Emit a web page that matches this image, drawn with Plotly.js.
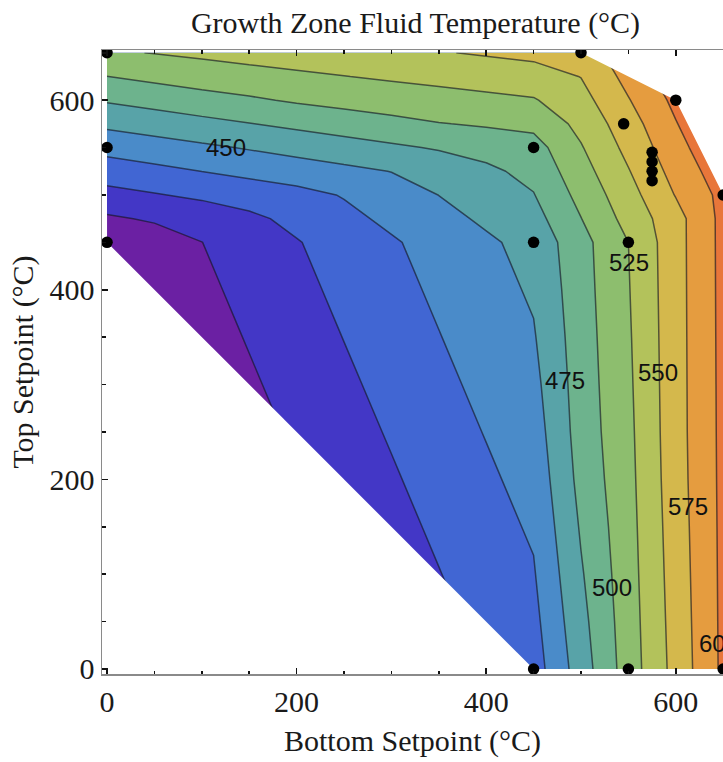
<!DOCTYPE html>
<html>
<head>
<meta charset="utf-8">
<script src="https://cdn.plot.ly/plotly-3.0.1.min.js"></script>
<style>
html,body{margin:0;padding:0;background:#fff;}
#chart{width:723px;height:762px;}
</style>
</head>
<body>
<div id="chart"></div>
<script>
// ---- data ----
const xGrid = [0,50,100,150,200,250,300,350,400,450,500,550,600,650];
const yGrid = [0,50,100,150,200,250,300,350,400,450,475,500,525,550,575,600,625,650];
// fluid temperature (°C) at grid nodes, one row per yGrid value
const zGrid = [
  [306,317.9,329.8,341.7,353.6,365.5,377.3,389.2,401.1,413,462.5,512,558.5,605],
  [311,322.9,334.8,346.7,358.6,370.5,382.3,394.2,406.1,418,467.5,513.4,560,605.2],
  [316,327.9,339.8,351.7,363.6,375.5,387.3,399.2,411.1,423,472.5,514.9,561.4,605.4],
  [321,332.9,344.8,356.7,368.6,380.5,392.3,404.2,416.1,428,477.5,516.3,562.8,605.6],
  [326,337.9,349.8,361.7,373.6,385.5,397.3,409.2,421.1,433,482.5,517.8,564.3,605.8],
  [331,342.9,354.8,366.7,378.6,390.5,402.3,414.2,426.1,438,485.7,519.2,565.1,606],
  [336,347.9,359.8,371.7,383.6,395.5,407.3,419.2,431.1,443,487.2,520.7,565.3,606.2],
  [341,352.9,364.8,376.7,388.6,400.5,412.3,424.2,436.1,448,488.6,522.1,565.5,606.4],
  [346,357.9,369.8,381.7,393.6,405.5,417.3,429.2,441.1,453,490.1,523.6,565.7,606.6],
  [351,362.9,374.8,386.7,398.6,410.5,422.3,434.2,446.1,458,491.5,525,565.9,606.8],
  [371.5,377.8,384.2,394.7,406.6,418.5,430.3,442.2,454.1,466,499.5,533.5,566,606.9],
  [392,398.3,404.7,411,417.3,426.5,438.3,450.2,462.1,474,507.5,540.5,576.2,607],
  [412.5,418.8,425.2,431.5,437.8,444.2,450.5,458.2,470.1,482,515.3,548.6,584,614],
  [433,439.3,445.7,452,458.3,464.7,471,477.3,483.7,490,523.2,556.8,591.5,621.5],
  [455.3,461.6,468,474.3,480.6,487,493.3,499,502.8,506.6,531.8,564.2,598.7,628.8],
  [477.5,483.8,490.2,496.5,502.8,507.9,511.7,515.5,519.3,523.1,541.2,573.6,606,636],
  [499.8,506.1,512.4,516.9,520.7,524.5,528.3,532.1,535.9,539.7,550.6,582.9,615,645],
  [522,525.8,529.6,533.4,537.2,541,544.8,548.6,552.4,556.2,560,592.3,624.8,657]
];
// sampled setpoint combinations (black dots)
const dotX = [0,0,0,450,450,450,500,545,550,550,575,575,575,575,600,650,650];
const dotY = [650,550,450,550,450,0,650,575,450,0,545,535,525,515,600,500,0];
// outline of the sampled region (indices into the dot arrays)
const hullLowerLeft = [2,5];      // (0,450) -> (450,0)
const hullUpperRight = [6,14,15]; // (500,650) -> (600,600) -> (650,500)
// contour levels
const levelStart = 375, levelEnd = 600, levelStep = 25;
const bandColors = ['#6b20a3','#4337c6','#4166d3','#4a8bc9','#58a3a8','#6db38d',
                    '#8dbe6e','#b3c25b','#d4b84c','#e59c3f','#e8763a'];
const labelLevels = [450,475,500,525,550,575,600];

// ---- presentation ----
const labelPos = [[126,550],[483,304],[533,86],[551,429],[581,313],[613,171],[646,27]];
const xRange = [-5.3,649.8], yRange = [-5.3,652.9];
const serif = '"Liberation Serif","Times New Roman",Times,serif';
const sans = '"Liberation Sans",Arial,Helvetica,sans-serif';
const textColor = '#1a1a1a';

const contour = {
  type:'contour', x:xGrid, y:yGrid, z:zGrid,
  autocontour:false,
  contours:{start:levelStart, end:levelEnd, size:levelStep, coloring:'fill', showlines:true},
  line:{color:'rgba(20,22,35,0.64)', width:1.5, smoothing:0},
  colorscale: bandColors.map((c,i)=>[i/(bandColors.length-1), c]),
  showscale:false, hoverinfo:'skip'
};

const far = 60;
function maskLL(){
  const a = hullLowerLeft.map(i=>[dotX[i],dotY[i]]);
  const x = a.map(p=>p[0]), y = a.map(p=>p[1]);
  x.push(a[a.length-1][0], xRange[0]-far, xRange[0]-far);
  y.push(yRange[0]-far, yRange[0]-far, a[0][1]);
  return {x,y};
}
function maskUR(){
  const a = hullUpperRight.map(i=>[dotX[i],dotY[i]]);
  const x = a.map(p=>p[0]), y = a.map(p=>p[1]);
  x.push(xRange[1]+far, xRange[1]+far, a[0][0]);
  y.push(a[a.length-1][1], yRange[1]+far, yRange[1]+far);
  return {x,y};
}
const m1 = maskLL(), m2 = maskUR();
const maskStyle = {type:'scatter', mode:'lines', fill:'toself', fillcolor:'#ffffff',
  line:{width:0, color:'rgba(255,255,255,0)'}, hoverinfo:'skip', showlegend:false};
const mask1 = Object.assign({x:m1.x, y:m1.y}, maskStyle);
const mask2 = Object.assign({x:m2.x, y:m2.y}, maskStyle);

const dots = {type:'scatter', mode:'markers', x:dotX, y:dotY,
  marker:{color:'#000', size:11.5}, hoverinfo:'skip', showlegend:false};

const annotations = labelLevels.map((lv,i)=>({
  x:labelPos[i][0], y:labelPos[i][1], xref:'x', yref:'y', text:String(lv),
  showarrow:false, xanchor:'center', yanchor:'middle',
  font:{family:sans, size:24, color:'#111'}
}));

const axisCommon = {
  showgrid:false, zeroline:false, showline:true, linecolor:'#8a8a8a', linewidth:1.5,
  ticks:'inside', ticklen:6, tickwidth:1.6, tickcolor:'#111',
  tick0:0, dtick:200,
  tickfont:{family:serif, size:30, color:textColor},
  minor:{tick0:0, dtick:50, ticks:'inside', ticklen:3.5, tickwidth:1.6, tickcolor:'#111', showgrid:false}
};

const layout = {
  width:723, height:762,
  margin:{l:102, r:0, t:50, b:88, pad:0},
  paper_bgcolor:'#fff', plot_bgcolor:'#fff', showlegend:false,
  title:{text:'Growth Zone Fluid Temperature (°C)', font:{family:serif, size:30, color:textColor},
    xref:'container', x:415.5/723, xanchor:'center', yref:'container', y:1-22/762, yanchor:'middle'},
  xaxis:Object.assign({}, axisCommon, {range:xRange, mirror:'ticks',
    title:{text:'Bottom Setpoint (°C)', font:{family:serif, size:30, color:textColor}, standoff:13}}),
  yaxis:Object.assign({}, axisCommon, {range:yRange, mirror:false,
    title:{text:'Top Setpoint (°C)', font:{family:serif, size:30, color:textColor}, standoff:7}}),
  annotations
};

Plotly.newPlot('chart', [contour, mask1, mask2, dots], layout, {staticPlot:true, displayModeBar:false});
</script>
</body>
</html>
